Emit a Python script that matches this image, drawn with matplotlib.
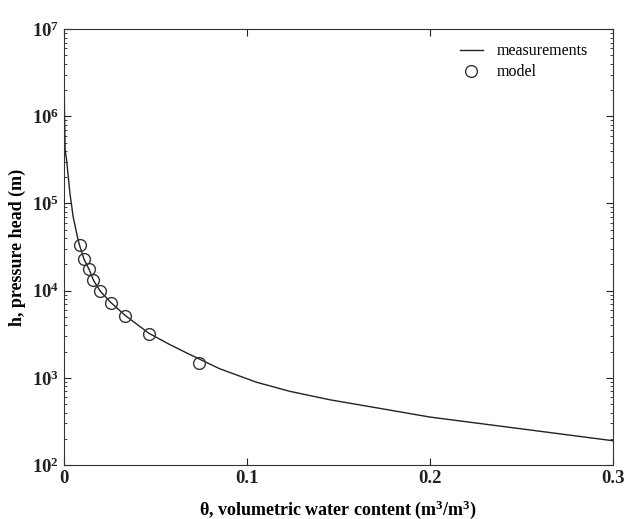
import math
import matplotlib.pyplot as plt
from matplotlib.ticker import FixedLocator, LogLocator, NullFormatter, FuncFormatter

plt.rcParams['font.family'] = ['Liberation Serif', 'DejaVu Serif']
plt.rcParams['mathtext.fontset'] = 'custom'
plt.rcParams['mathtext.rm'] = 'Liberation Serif'
plt.rcParams['mathtext.bf'] = 'Liberation Serif:bold'
plt.rcParams['mathtext.it'] = 'Liberation Serif:italic'

# measured retention curve (theta, h)
theta_meas = [0.0002, 0.0004, 0.0007, 0.0015, 0.0033, 0.0051, 0.0078, 0.0086, 0.011,
              0.0138, 0.0162, 0.020, 0.0257, 0.0335, 0.0464, 0.0580, 0.0689, 0.0852,
              0.1053, 0.1235, 0.1454, 0.178, 0.200, 0.250, 0.300]
h_meas = [2.1e6, 9.1e5, 4.1e5, 3.15e5, 1.32e5, 7.0e4, 3.8e4, 3.3e4, 2.3e4,
          1.75e4, 1.31e4, 9.8e3, 7.3e3, 5.2e3, 3.25e3, 2.4e3, 1.85e3, 1.27e3,
          8.9e2, 7.0e2, 5.6e2, 4.27e2, 3.55e2, 2.6e2, 1.9e2]

# model points
theta_model = [0.0086, 0.0109, 0.0138, 0.0162, 0.020, 0.0257, 0.0335, 0.0464, 0.0741]
h_model = [33300, 22900, 17500, 13100, 9800, 7260, 5150, 3180, 1470]

fig = plt.figure(figsize=(6.26, 5.19), dpi=100)
ax = fig.add_axes([0.102, 0.104, 0.877, 0.840])

ax.plot(theta_meas, h_meas, color='#222222', lw=1.0, label='measurements')
ax.plot(theta_model, h_model, 'o', ms=8.5, mfc='none', mec='#333333', mew=1.0,
        label='model')

ax.set_yscale('log')
ax.set_xlim(0, 0.3)
ax.set_ylim(1e2, 1e7)
ax.xaxis.set_major_locator(FixedLocator([0, 0.1, 0.2, 0.3]))
ax.xaxis.set_major_formatter(FuncFormatter(lambda v, p: '0' if v == 0 else '%.1f' % v))
ax.yaxis.set_major_locator(LogLocator(base=10, numticks=10))
ax.yaxis.set_major_formatter(FuncFormatter(lambda v, p: r'$\mathbf{10^{%d}}$' % round(math.log10(v))))
ax.yaxis.set_minor_locator(LogLocator(base=10, subs=range(2, 10), numticks=20))
ax.yaxis.set_minor_formatter(NullFormatter())

ax.tick_params(which='both', direction='in', top=True, right=True, colors='#222222')
ax.tick_params(which='major', length=5, labelsize=13.5)
ax.tick_params(which='minor', length=2.5)
for lab in ax.get_xticklabels():
    lab.set_fontweight('bold')
for sp in ax.spines.values():
    sp.set_color('#333333')

ax.set_xlabel('θ, volumetric water content (m$^\\mathbf{3}$/m$^\\mathbf{3}$)',
              fontsize=13, fontweight='bold', labelpad=8)
ax.set_ylabel('h, pressure head (m)', fontsize=13, fontweight='bold', labelpad=4)

ax.legend(loc='upper right', frameon=False, fontsize=11.5, handlelength=1.5,
          labelspacing=0.3, bbox_to_anchor=(0.98, 1.0))

fig.savefig('out.png', dpi=100)
